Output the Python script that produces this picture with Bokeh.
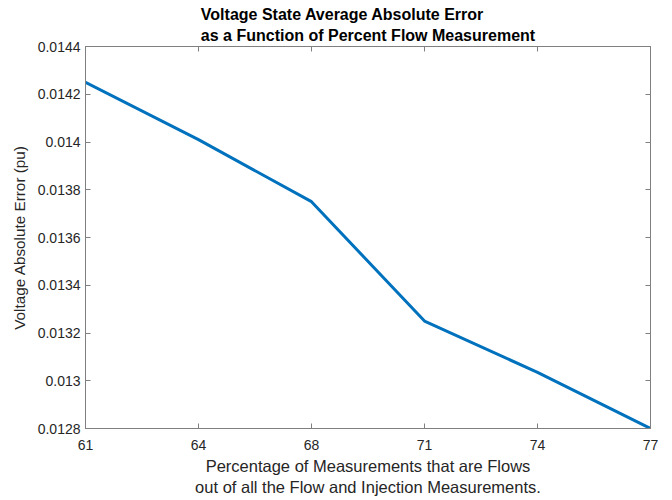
from bokeh.plotting import figure
from bokeh.models import FixedTicker, LinearAxis, PrintfTickFormatter, Range1d, CustomJSTickFormatter
from bokeh.embed import file_html
from bokeh.resources import INLINE

# Data
x_labels = ["61", "64", "68", "71", "74", "77"]
error_pu = [0.01425, 0.01401, 0.01375, 0.01325, 0.013035, 0.0128]
y_ticks = [0.0128, 0.0130, 0.0132, 0.0134, 0.0136, 0.0138, 0.0140, 0.0142, 0.0144]

xs = list(range(len(x_labels)))

FONT = "Liberation Sans"
AX = "#808080"
TXT = "#262626"

p = figure(frame_width=565, frame_height=382, output_backend="svg", toolbar_location=None,
           x_range=Range1d(0, len(x_labels) - 1), y_range=Range1d(0.0128, 0.0144),
           min_border_left=85, min_border_right=8, min_border_top=46, min_border_bottom=60)

p.title.text = "Voltage State Average Absolute Error\nas a Function of Percent Flow Measurement"
p.title.align = "center"
p.title.text_font = FONT
p.title.text_font_size = "16px"
p.title.text_font_style = "bold"
p.title.text_color = "black"
p.title.text_line_height = 1.25
p.title.standoff = 5

p.line(xs, error_pu, line_color="#0072BD", line_width=3)

p.grid.visible = False
p.outline_line_color = AX
p.outline_line_width = 1

labels = {i: t for i, t in enumerate(x_labels)}

p.xaxis[0].ticker = FixedTicker(ticks=xs)
p.xaxis[0].major_label_overrides = labels
p.xaxis[0].axis_label = "Percentage of Measurements that are Flows\nout of all the Flow and Injection Measurements."

p.yaxis[0].ticker = FixedTicker(ticks=y_ticks)
p.yaxis[0].formatter = PrintfTickFormatter(format="%g")
p.yaxis[0].axis_label = "Voltage Absolute Error (pu)"

for ax in (p.xaxis[0], p.yaxis[0]):
    ax.axis_line_color = AX
    ax.major_tick_line_color = AX
    ax.major_tick_in = 5
    ax.major_tick_out = 0
    ax.minor_tick_line_color = None
    ax.major_label_text_font = FONT
    ax.major_label_text_font_size = "14px"
    ax.major_label_text_color = TXT
    ax.axis_label_text_font = FONT
    ax.axis_label_text_font_style = "normal"
    ax.axis_label_text_color = TXT

p.xaxis[0].axis_label_text_font_size = "16.5px"
p.xaxis[0].major_label_standoff = 11
p.xaxis[0].axis_label_standoff = 4
p.yaxis[0].axis_label_text_font_size = "15.3px"
p.yaxis[0].major_label_standoff = 5
p.yaxis[0].axis_label_standoff = 7

blank = CustomJSTickFormatter(code="return ''")
top = LinearAxis(ticker=FixedTicker(ticks=xs), formatter=blank,
                 major_label_standoff=0, major_tick_in=5, major_tick_out=0,
                 minor_tick_line_color=None, axis_line_color=AX, major_tick_line_color=AX)
right = LinearAxis(ticker=FixedTicker(ticks=y_ticks), formatter=blank,
                   major_label_standoff=0, major_tick_in=5, major_tick_out=0,
                   minor_tick_line_color=None, axis_line_color=AX, major_tick_line_color=AX)
p.add_layout(top, "above")
p.add_layout(right, "right")

open("out.html", "w").write(file_html(p, INLINE))
